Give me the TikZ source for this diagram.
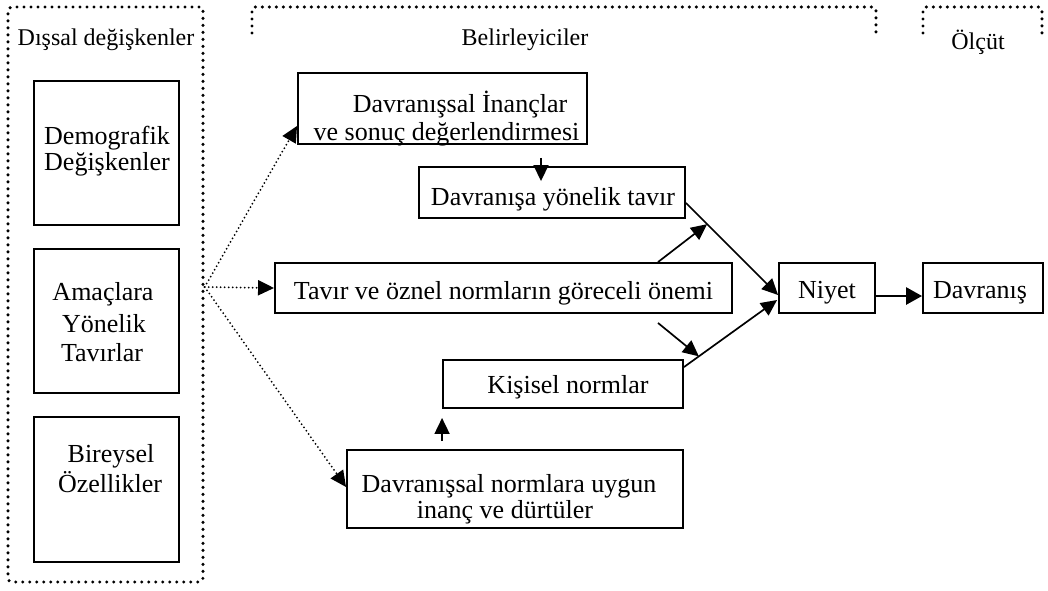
\documentclass[tikz,border=0pt]{standalone}
\usepackage{fontspec}
\setmainfont{Liberation Serif}
\usetikzlibrary{arrows.meta,calc}

\tikzset{
  box/.style={draw, line width=1.9pt, inner sep=0pt},
  lbl/.style={anchor=base, inner sep=0pt, font=\fontsize{26}{30}\selectfont},
  head/.style={anchor=base, inner sep=0pt, font=\fontsize{24}{28}\selectfont},
  frame/.style={line width=3.4pt, dash pattern=on 0pt off 7pt, line cap=round},
  dotarr/.style={line width=2pt, dash pattern=on 0pt off 4pt, line cap=round,
    -{Triangle[length=16pt,width=15pt]}},
  arr/.style={line width=1.7pt, -{Triangle[length=16pt,width=15pt]}},
  boldarr/.style={line width=2.7pt, -{Triangle[length=16pt,width=17pt]}}
}

\begin{document}
\begin{tikzpicture}[x=1pt, y=-1pt]
\useasboundingbox[fill=white] (0,0) rectangle (1048,590);

% group frames
\node[frame, draw, rounded corners=4pt, minimum width=195pt, minimum height=575pt, inner sep=0pt]
  (ext) at (105.5,294.5) {};
\draw[frame, rounded corners=3pt] (252,33) -- (252,7) -- (876,7) -- (876,33);
\draw[frame, rounded corners=3pt] (923,33) -- (923,7) -- (1042,7) -- (1042,33);

\node[head] (h-ext) at (106,45) {Dışsal değişkenler};
\node[head] (h-bel) at (525,45) {Belirleyiciler};
\node[head] (h-olc) at (978,49) {Ölçüt};

% external variables
\node[box, minimum width=145pt, minimum height=144pt] (demo) at (106.5,153) {};
\node[lbl] (demo-1) at (107,144) {Demografik};
\node[lbl] (demo-2) at (107,170) {Değişkenler};

\node[box, minimum width=145pt, minimum height=144pt] (amac) at (106.5,321) {};
\node[lbl] (amac-1) at (103,300) {Amaçlara};
\node[lbl] (amac-2) at (104,332) {Yönelik};
\node[lbl] (amac-3) at (102,361) {Tavırlar};

\node[box, minimum width=145pt, minimum height=145pt] (bir) at (106.5,489.5) {};
\node[lbl] (bir-1) at (111,462) {Bireysel};
\node[lbl] (bir-2) at (110,492) {Özellikler};

% determinants
\node[box, minimum width=289pt, minimum height=71pt] (inanc) at (442.5,108.5) {};
\node[lbl] (inanc-1) at (460,112) {Davranışsal İnançlar};
\node[lbl] (inanc-2) at (446.5,140) {ve sonuç değerlendirmesi};

\node[box, minimum width=266pt, minimum height=51pt] (tavir) at (552,192.5) {};
\node[lbl] (tavir-t) at (553,205) {Davranışa yönelik tavır};

\node[box, minimum width=457pt, minimum height=50pt] (onem) at (503.5,288) {};
\node[lbl] (onem-t) at (503.5,299) {Tavır ve öznel normların göreceli önemi};

\node[box, minimum width=240pt, minimum height=48pt] (kisi) at (563,384) {};
\node[lbl] (kisi-t) at (568,393) {Kişisel normlar};

\node[box, minimum width=336pt, minimum height=78pt] (norm) at (515,489) {};
\node[lbl] (norm-1) at (509,492) {Davranışsal normlara uygun};
\node[lbl] (norm-2) at (505,518) {inanç ve dürtüler};

% criterion
\node[box, minimum width=96pt, minimum height=50pt] (niyet) at (827,288) {};
\node[lbl] (niyet-t) at (827,298) {Niyet};

\node[box, minimum width=120pt, minimum height=50pt] (davr) at (983,288) {};
\node[lbl] (davr-t) at (980,298) {Davranış};

% dotted influences from the external variables
\coordinate (src) at ($(ext.east)+(0,-7.5)$);
\draw[dotarr] (src) -- ($(inanc.south west)+(0,-19)$);
\draw[dotarr] (src) -- (onem.west);
\draw[dotarr] (src) -- ($(norm.west)+(0,-2)$);

% solid paths
\draw[arr] ($(inanc.south)+(98.5,13)$) -- ($(tavir.north)+(-11,15)$);
\draw[arr] ($(tavir.east)+(0,10.5)$) -- coordinate[pos=0.23] (w1) ($(niyet.west)+(0,7)$);
\draw[arr] ($(kisi.north east)+(0,8)$) -- coordinate[pos=0.16] (w2) ($(niyet.west)+(-1,12)$);
\draw[arr] ($(onem.north)+(154.5,0)$) -- (w1);
\draw[arr] ($(onem.south)+(154.5,9)$) -- (w2);
\draw[arr] ($(norm.north -| kisi.west)+(0,-8)$) -- ($(kisi.south west)+(0,9)$);
\draw[boldarr] ($(niyet.east)+(0,8)$) -- ($(davr.west)+(0,8)$);
\end{tikzpicture}
\end{document}
